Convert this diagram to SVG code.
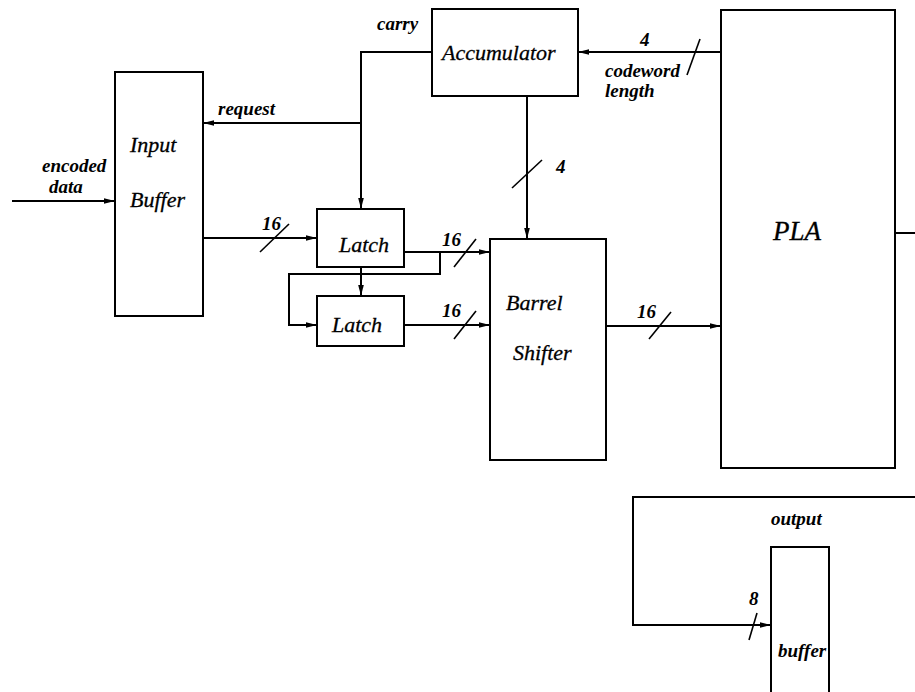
<svg xmlns="http://www.w3.org/2000/svg" width="915" height="692" viewBox="0 0 915 692">
<defs>
<marker id="arr" markerWidth="12" markerHeight="8" refX="11" refY="4" orient="auto" markerUnits="userSpaceOnUse">
<path d="M0,1.2 L11,4 L0,6.8 Z" fill="#000"/>
</marker>
<style>
rect.box{fill:#fff;stroke:#000;stroke-width:2}
.ln{fill:none;stroke:#000;stroke-width:2}
.sl{fill:none;stroke:#000;stroke-width:1.6}
text{font-family:"Liberation Serif","Times New Roman",serif;font-style:italic;fill:#000}
.big{font-size:22px;stroke:#000;stroke-width:0.3}
.pla{font-size:27px;stroke:#000;stroke-width:0.3}
.sm{font-size:19px;font-weight:bold}
</style>
</defs>
<rect width="915" height="692" fill="#fff"/>
<g id="connectors">
<path class="ln" d="M12,201 L115,201" marker-end="url(#arr)"/>
<path class="ln" d="M432,52 L361,52 L361,209" marker-end="url(#arr)"/>
<path class="ln" d="M361,123 L203,123" marker-end="url(#arr)"/>
<path class="ln" d="M721,52 L578,52" marker-end="url(#arr)"/>
<path class="ln" d="M527,96 L527,239" marker-end="url(#arr)"/>
<path class="ln" d="M203,238 L317,238" marker-end="url(#arr)"/>
<path class="ln" d="M404,252 L490,252" marker-end="url(#arr)"/>
<path class="ln" d="M440,252 L440,274 L289,274 L289,325 L317,325" marker-end="url(#arr)"/>
<path class="ln" d="M361,267 L361,296" marker-end="url(#arr)"/>
<path class="ln" d="M404,325 L490,325" marker-end="url(#arr)"/>
<path class="ln" d="M606,326 L721,326" marker-end="url(#arr)"/>
<path class="ln" d="M895,233 L915,233"/>
<path class="ln" d="M915,497 L633,497 L633,625 L771,625" marker-end="url(#arr)"/>
<path class="sl" d="M687,75 L700,39"/>
<path class="sl" d="M512,188 L542,160"/>
<path class="sl" d="M260,252 L289,224"/>
<path class="sl" d="M454,267 L476,239"/>
<path class="sl" d="M454,339 L476,311"/>
<path class="sl" d="M649,339 L671,312"/>
<path class="sl" d="M749,640 L757,613"/>
</g>
<g id="input-buffer">
<rect class="box" x="115" y="72" width="88" height="244"/>
<text class="big" x="130" y="152">Input</text>
<text class="big" x="130" y="207">Buffer</text>
</g>
<g id="accumulator">
<rect class="box" x="432" y="9" width="146" height="87"/>
<text class="big" x="442" y="60">Accumulator</text>
</g>
<g id="latch1">
<rect class="box" x="317" y="209" width="87" height="58"/>
<text class="big" x="339" y="252">Latch</text>
</g>
<g id="latch2">
<rect class="box" x="317" y="296" width="87" height="50"/>
<text class="big" x="332" y="332">Latch</text>
</g>
<g id="barrel-shifter">
<rect class="box" x="490" y="239" width="116" height="221"/>
<text class="big" x="506" y="310">Barrel</text>
<text class="big" x="513" y="360">Shifter</text>
</g>
<g id="pla">
<rect class="box" x="721" y="10" width="174" height="458"/>
<text class="pla" x="773" y="240">PLA</text>
</g>
<g id="output-buffer">
<rect class="box" x="771" y="547" width="58" height="150"/>
<text class="sm" x="778" y="657">buffer</text>
</g>
<g id="labels">
<text class="sm" x="42" y="172">encoded</text>
<text class="sm" x="49" y="193">data</text>
<text class="sm" x="218" y="115">request</text>
<text class="sm" x="377" y="30">carry</text>
<text class="sm" x="640" y="46">4</text>
<text class="sm" x="605" y="77">codeword</text>
<text class="sm" x="605" y="97">length</text>
<text class="sm" x="556" y="173">4</text>
<text class="sm" x="262" y="230">16</text>
<text class="sm" x="442" y="246">16</text>
<text class="sm" x="442" y="317">16</text>
<text class="sm" x="637" y="318">16</text>
<text class="sm" x="771" y="525">output</text>
<text class="sm" x="749" y="605">8</text>
</g>
</svg>
